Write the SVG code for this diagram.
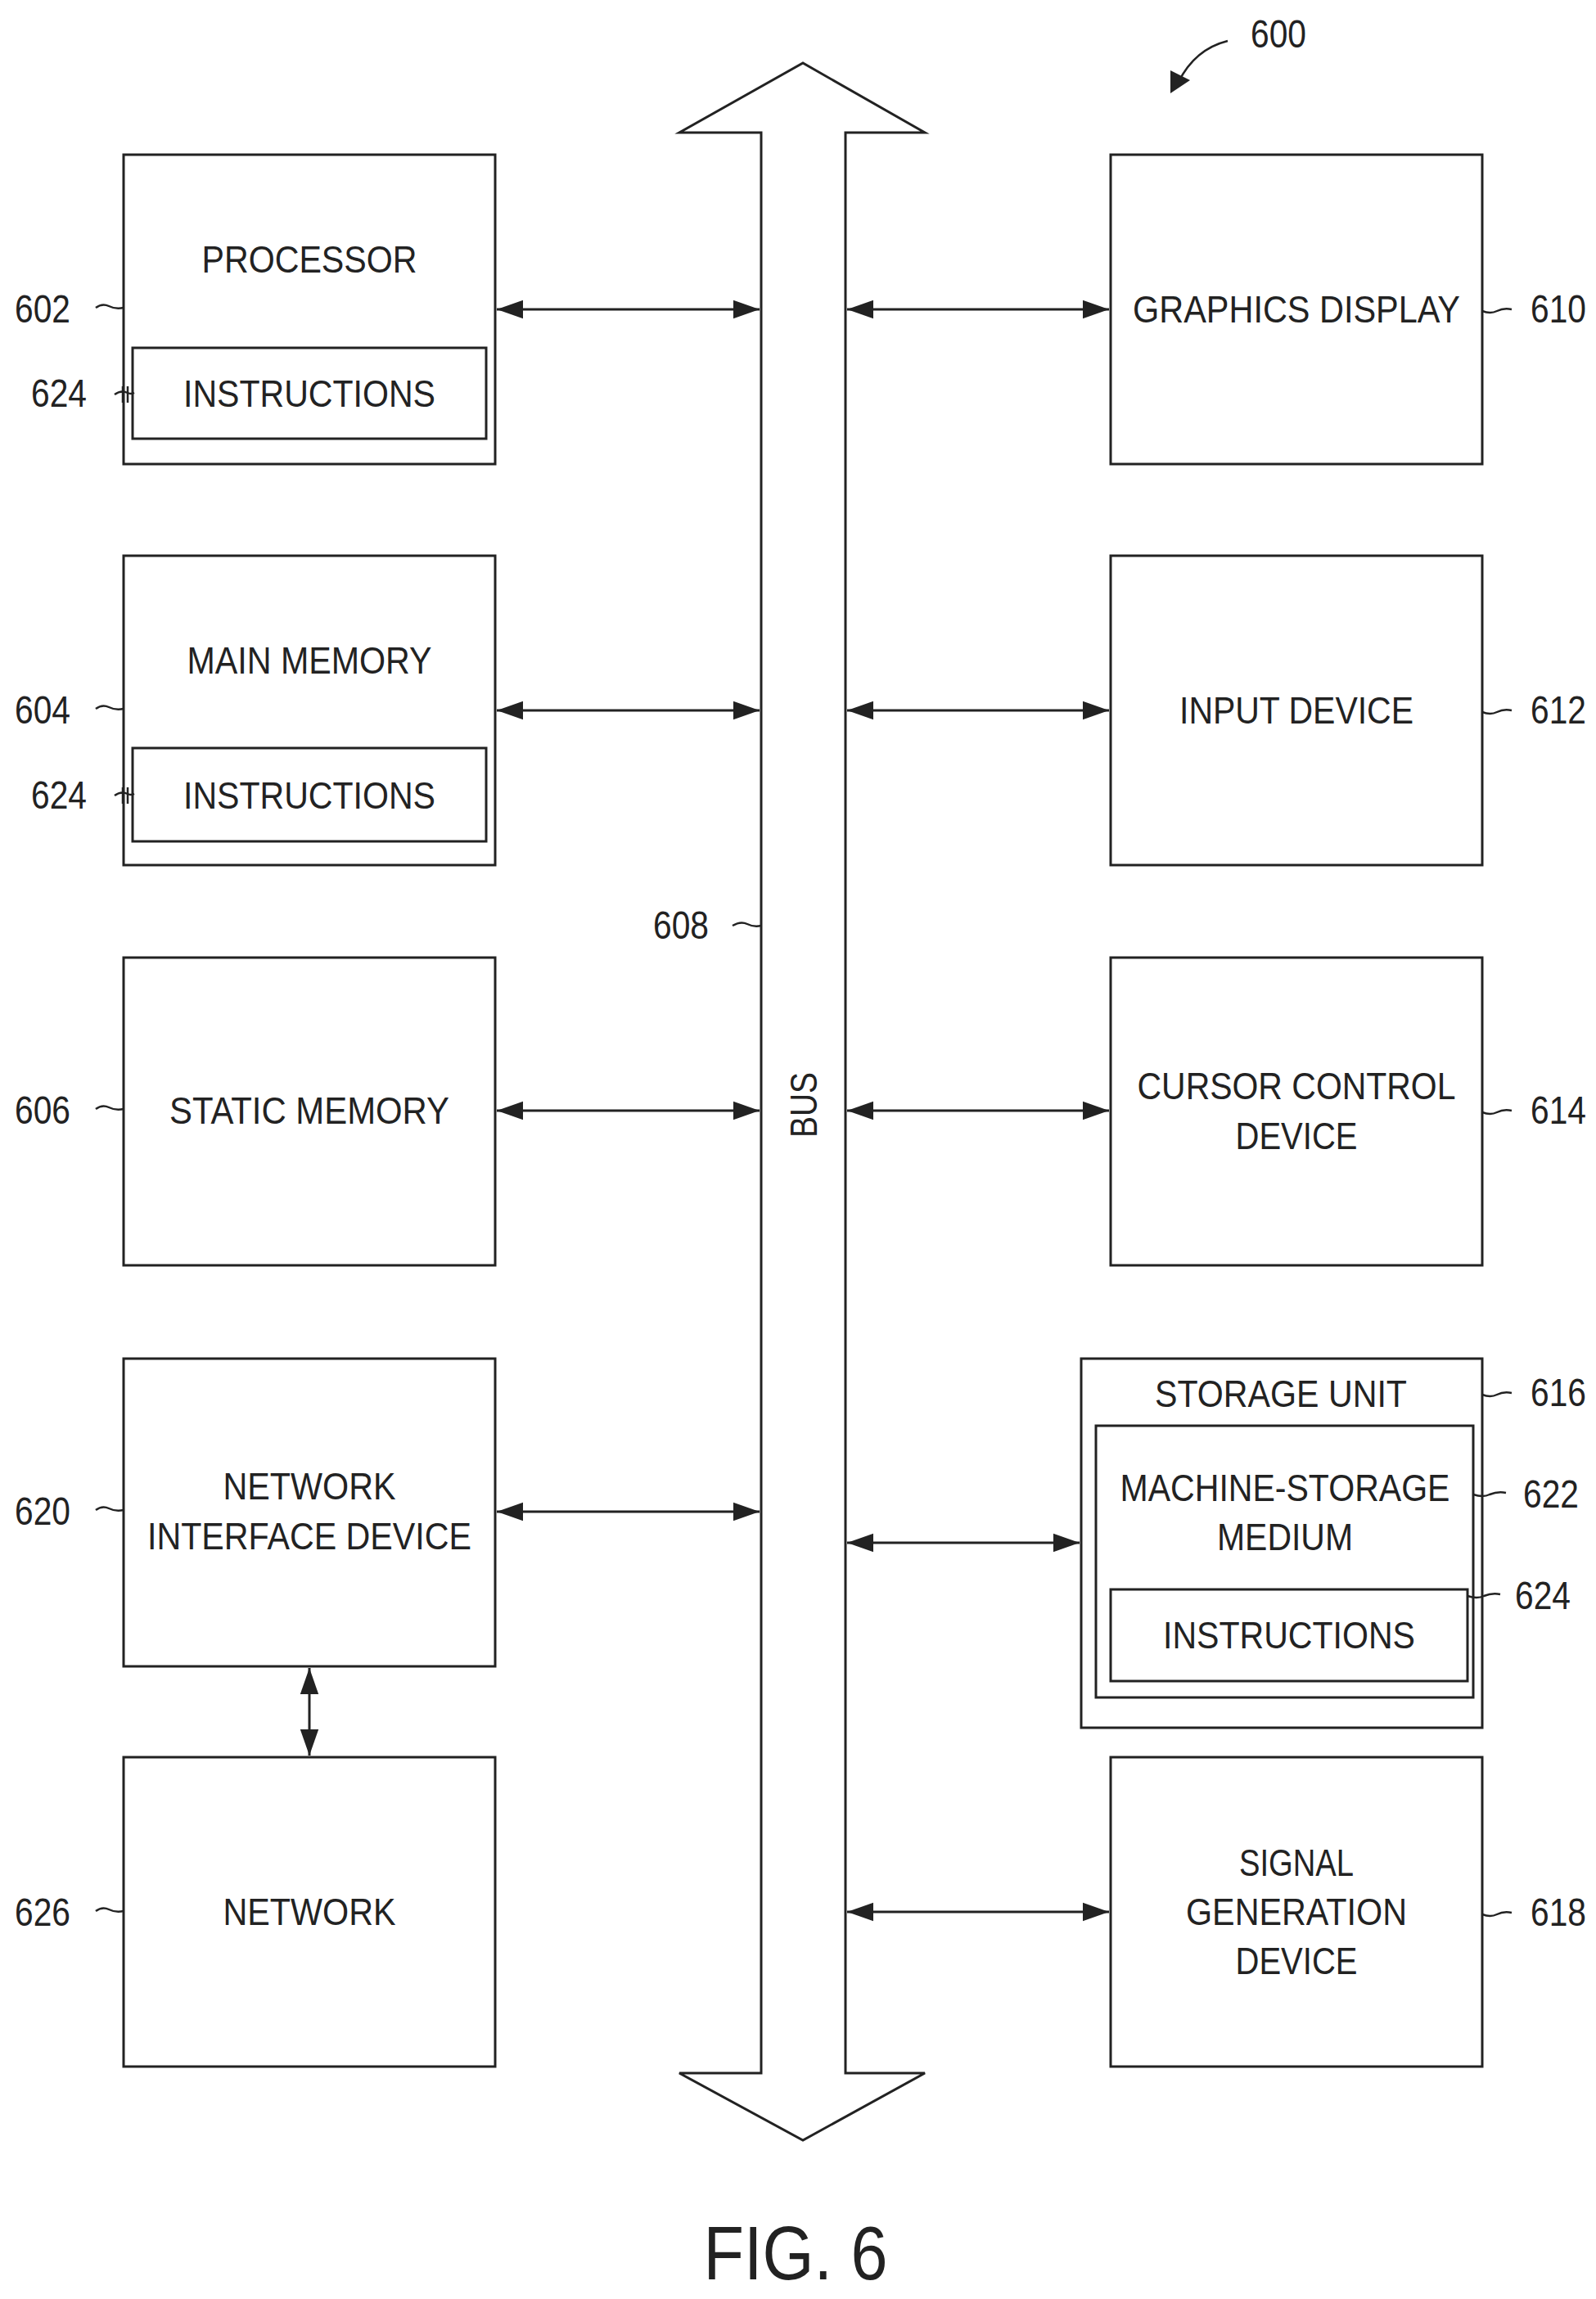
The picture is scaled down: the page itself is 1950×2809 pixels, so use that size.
<svg xmlns="http://www.w3.org/2000/svg" width="1950" height="2809" viewBox="0 0 1950 2809">
<defs>
<marker id="ah" viewBox="0 0 10 10" refX="10" refY="5" markerWidth="32" markerHeight="32" markerUnits="userSpaceOnUse" orient="auto-start-reverse"><path d="M0,1.5 L10,5 L0,8.5 Z" fill="#222"/></marker>
</defs>
<style>
.b{fill:#fff;stroke:#222;stroke-width:3}
.t{font-family:"Liberation Sans",Arial,sans-serif;font-size:46px;fill:#222;text-anchor:middle}
.n{font-family:"Liberation Sans",Arial,sans-serif;font-size:48px;fill:#222;text-anchor:middle}
.c{fill:none;stroke:#222;stroke-width:2.5}
.l{fill:none;stroke:#222;stroke-width:3;marker-start:url(#ah);marker-end:url(#ah)}
</style>
<rect width="1950" height="2809" fill="#fff"/>
<g id="bus">
<path class="b" d="M930,2533 L930,162 L830,162 L981,77 L1130,162 L1033,162 L1033,2533 L1130,2533 L981,2615 L830,2533 Z"/>
<text class="t" transform="translate(998,1350) rotate(-90)" textLength="80" lengthAdjust="spacingAndGlyphs">BUS</text>
</g>
<g id="processor"><rect class="b" x="151" y="189" width="454" height="378"/><text class="t" x="378" y="333" textLength="263" lengthAdjust="spacingAndGlyphs">PROCESSOR</text>
<rect class="b" x="162" y="425" width="432" height="111"/><text class="t" x="378" y="497" textLength="308" lengthAdjust="spacingAndGlyphs">INSTRUCTIONS</text></g>
<g id="mainmem"><rect class="b" x="151" y="679" width="454" height="378"/><text class="t" x="378" y="823" textLength="299" lengthAdjust="spacingAndGlyphs">MAIN MEMORY</text>
<rect class="b" x="162" y="914" width="432" height="114"/><text class="t" x="378" y="988" textLength="308" lengthAdjust="spacingAndGlyphs">INSTRUCTIONS</text></g>
<g id="static"><rect class="b" x="151" y="1170" width="454" height="376"/><text class="t" x="378" y="1373" textLength="342" lengthAdjust="spacingAndGlyphs">STATIC MEMORY</text></g>
<g id="nid"><rect class="b" x="151" y="1660" width="454" height="376"/><text class="t" x="378" y="1832" textLength="211" lengthAdjust="spacingAndGlyphs">NETWORK</text><text class="t" x="378" y="1893" textLength="396" lengthAdjust="spacingAndGlyphs">INTERFACE DEVICE</text></g>
<g id="network"><rect class="b" x="151" y="2147" width="454" height="378"/><text class="t" x="378" y="2352" textLength="211" lengthAdjust="spacingAndGlyphs">NETWORK</text></g>
<g id="graphics"><rect class="b" x="1357" y="189" width="454" height="378"/><text class="t" x="1584" y="394" textLength="400" lengthAdjust="spacingAndGlyphs">GRAPHICS DISPLAY</text></g>
<g id="input"><rect class="b" x="1357" y="679" width="454" height="378"/><text class="t" x="1584" y="884" textLength="286" lengthAdjust="spacingAndGlyphs">INPUT DEVICE</text></g>
<g id="cursor"><rect class="b" x="1357" y="1170" width="454" height="376"/><text class="t" x="1584" y="1343" textLength="389" lengthAdjust="spacingAndGlyphs">CURSOR CONTROL</text><text class="t" x="1584" y="1404" textLength="149" lengthAdjust="spacingAndGlyphs">DEVICE</text></g>
<g id="storage"><rect class="b" x="1321" y="1660" width="490" height="451"/><text class="t" x="1565" y="1719" textLength="308" lengthAdjust="spacingAndGlyphs">STORAGE UNIT</text>
<rect class="b" x="1339" y="1742" width="461" height="332"/><text class="t" x="1570" y="1834" textLength="403" lengthAdjust="spacingAndGlyphs">MACHINE-STORAGE</text><text class="t" x="1570" y="1894" textLength="166" lengthAdjust="spacingAndGlyphs">MEDIUM</text>
<rect class="b" x="1357" y="1942" width="436" height="112"/><text class="t" x="1575" y="2014" textLength="308" lengthAdjust="spacingAndGlyphs">INSTRUCTIONS</text></g>
<g id="signal"><rect class="b" x="1357" y="2147" width="454" height="378"/><text class="t" x="1584" y="2292" textLength="140" lengthAdjust="spacingAndGlyphs">SIGNAL</text><text class="t" x="1584" y="2352" textLength="270" lengthAdjust="spacingAndGlyphs">GENERATION</text><text class="t" x="1584" y="2412" textLength="149" lengthAdjust="spacingAndGlyphs">DEVICE</text></g>
<g id="connectors">
<line class="l" x1="607" y1="378" x2="928" y2="378"/>
<line class="l" x1="607" y1="868" x2="928" y2="868"/>
<line class="l" x1="607" y1="1357" x2="928" y2="1357"/>
<line class="l" x1="607" y1="1847" x2="928" y2="1847"/>
<line class="l" x1="1035" y1="378" x2="1355" y2="378"/>
<line class="l" x1="1035" y1="868" x2="1355" y2="868"/>
<line class="l" x1="1035" y1="1357" x2="1355" y2="1357"/>
<line class="l" x1="1035" y1="1885" x2="1319" y2="1885"/>
<line class="l" x1="1035" y1="2336" x2="1355" y2="2336"/>
<line class="l" x1="378" y1="2038" x2="378" y2="2145"/>
<path d="M1500,50 Q1460,60 1440,100" class="c"/><path d="M1430,114 L1430,86 L1454,98 Z" fill="#222"/>
</g>
<g id="labels">
<text class="n" x="52" y="394" textLength="68" lengthAdjust="spacingAndGlyphs">602</text><path class="c" d="M117,376 q8,-6 16,-2 q8,4 18,2"/>
<text class="n" x="72" y="497" textLength="68" lengthAdjust="spacingAndGlyphs">624</text><path class="c" d="M140,482 q8,-6 16,-2 q4,2 8,0"/><path class="c" d="M150,472 v20 M156,472 v20"/>
<text class="n" x="52" y="884" textLength="68" lengthAdjust="spacingAndGlyphs">604</text><path class="c" d="M117,866 q8,-6 16,-2 q8,4 18,2"/>
<text class="n" x="72" y="988" textLength="68" lengthAdjust="spacingAndGlyphs">624</text><path class="c" d="M140,972 q8,-6 16,-2 q4,2 8,0"/><path class="c" d="M150,962 v20 M156,962 v20"/>
<text class="n" x="832" y="1147" textLength="68" lengthAdjust="spacingAndGlyphs">608</text><path class="c" d="M895,1131 q10,-6 18,-2 q8,4 17,2"/>
<text class="n" x="52" y="1373" textLength="68" lengthAdjust="spacingAndGlyphs">606</text><path class="c" d="M117,1355 q8,-6 16,-2 q8,4 18,2"/>
<text class="n" x="52" y="1863" textLength="68" lengthAdjust="spacingAndGlyphs">620</text><path class="c" d="M117,1845 q8,-6 16,-2 q8,4 18,2"/>
<text class="n" x="52" y="2353" textLength="68" lengthAdjust="spacingAndGlyphs">626</text><path class="c" d="M117,2335 q8,-6 16,-2 q8,4 18,2"/>
<text class="n" x="1904" y="394" textLength="68" lengthAdjust="spacingAndGlyphs">610</text><path class="c" d="M1811,380 q10,4 18,0 q8,-4 18,-2"/>
<text class="n" x="1904" y="884" textLength="68" lengthAdjust="spacingAndGlyphs">612</text><path class="c" d="M1811,870 q10,4 18,0 q8,-4 18,-2"/>
<text class="n" x="1904" y="1373" textLength="68" lengthAdjust="spacingAndGlyphs">614</text><path class="c" d="M1811,1359 q10,4 18,0 q8,-4 18,-2"/>
<text class="n" x="1904" y="1718" textLength="68" lengthAdjust="spacingAndGlyphs">616</text><path class="c" d="M1811,1704 q10,4 18,0 q8,-4 18,-2"/>
<text class="n" x="1895" y="1842" textLength="68" lengthAdjust="spacingAndGlyphs">622</text><path class="c" d="M1800,1826 q12,4 20,0 q10,-4 20,-2"/>
<text class="n" x="1885" y="1966" textLength="68" lengthAdjust="spacingAndGlyphs">624</text><path class="c" d="M1793,1950 q12,4 20,0 q10,-4 20,-2"/>
<text class="n" x="1904" y="2353" textLength="68" lengthAdjust="spacingAndGlyphs">618</text><path class="c" d="M1811,2339 q10,4 18,0 q8,-4 18,-2"/>
<text class="n" x="1562" y="58" textLength="68" lengthAdjust="spacingAndGlyphs">600</text>
<text class="n" x="972" y="2785" style="font-size:92px" textLength="225" lengthAdjust="spacingAndGlyphs">FIG. 6</text>
</g>
</svg>
